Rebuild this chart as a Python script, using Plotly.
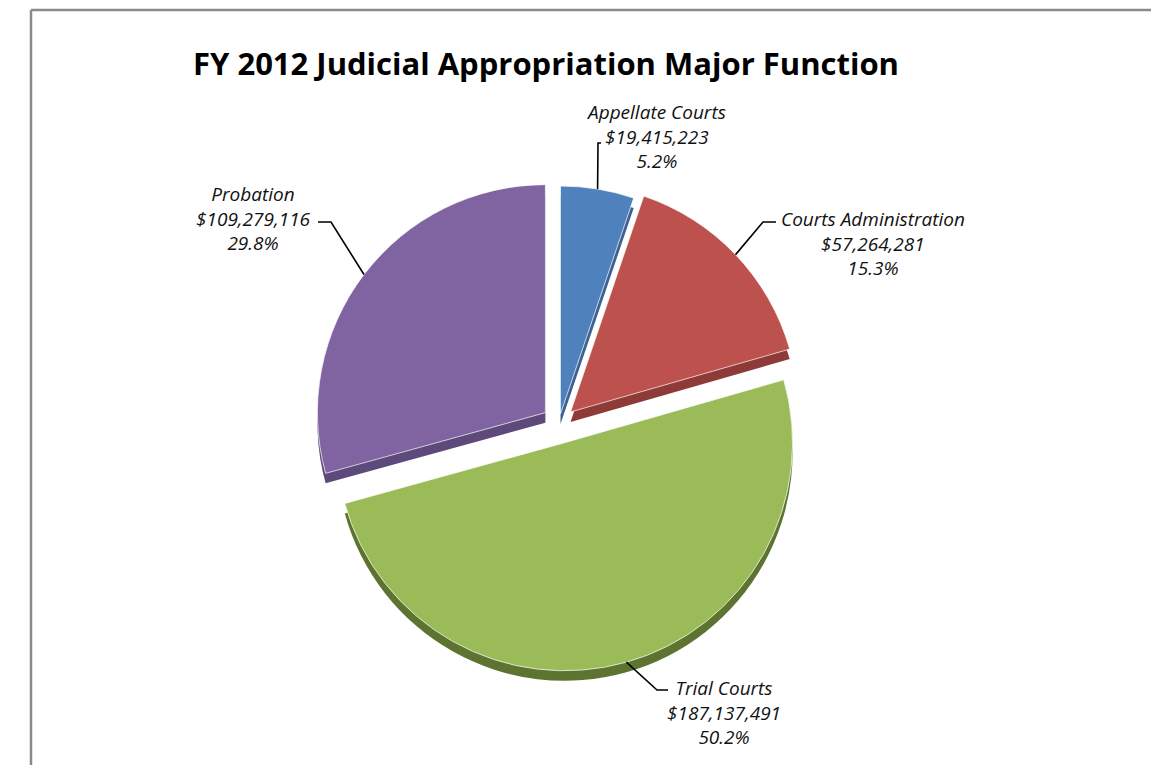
import math
import plotly.graph_objects as go

# ---- data ----
categories = ["Appellate Courts", "Courts Administration", "Trial Courts", "Probation"]
values = [19415223, 57264281, 187137491, 109279116]
value_labels = ["$19,415,223", "$57,264,281", "$187,137,491", "$109,279,116"]
percent_labels = ["5.2%", "15.3%", "50.2%", "29.8%"]
title_text = "FY 2012 Judicial Appropriation Major Function"

# ---- styling ----
colors = ["#4F81BD", "#BD514E", "#9BBB59", "#8064A2"]
side_colors = ["#3B6293", "#8E3A38", "#5C7430", "#5E4A7A"]
pulls = [0.04, 0.07, 0.09, 0.075]

W, H = 1151, 765
cx, cy, R = 559, 423, 228      # pie centre / radius in pixels
depth = 10                     # pseudo-3D thickness in pixels
half = R * (1 + max(pulls))


def dom(ccx, ccy):
    return dict(x=[(ccx - half) / W, (ccx + half) / W],
                y=[1 - (ccy + half) / H, 1 - (ccy - half) / H])


fig = go.Figure()
# darker "side" pie drawn first, shifted down
fig.add_trace(go.Pie(labels=categories, values=values, sort=False, direction="clockwise",
                     rotation=0, pull=pulls, textinfo="none", hoverinfo="skip",
                     marker=dict(colors=side_colors, line=dict(color="rgba(0,0,0,0)", width=0)),
                     domain=dom(cx, cy + depth), showlegend=False))
fig.add_trace(go.Pie(labels=categories, values=values, sort=False, direction="clockwise",
                     rotation=0, pull=pulls, textinfo="none",
                     marker=dict(colors=colors, line=dict(color="rgba(255,255,255,0.7)", width=1)),
                     domain=dom(cx, cy), showlegend=False))

# ---- labels with elbow leader lines ----
total = sum(values)
cum = 0
mids = []
for v in values:
    mids.append((cum + v / 2) / total * 2 * math.pi)
    cum += v

# label text centre (px) and the elbow / end points of the leader lines (px)
label_pos = [(656, 136), (873, 243), (724, 712), (253, 218)]
elbows = [(598, 143), (763, 222), (657, 690), (331, 222)]
ends = [(601, 143), (776, 222), (668, 690), (318, 222)]

def px(x, y):
    return x / W, 1 - y / H

shapes = []
annotations = []
for i, th in enumerate(mids):
    pcx = cx + pulls[i] * R * math.sin(th)
    pcy = cy - pulls[i] * R * math.cos(th)
    ax = pcx + R * math.sin(th)
    ay = pcy - R * math.cos(th)
    pts = [px(ax, ay), px(*elbows[i]), px(*ends[i])]
    path = "M {} {} L {} {} L {} {}".format(pts[0][0], pts[0][1], pts[1][0], pts[1][1],
                                            pts[2][0], pts[2][1])
    shapes.append(dict(type="path", xref="paper", yref="paper", path=path,
                       line=dict(color="black", width=1.6)))
    lx, ly = px(*label_pos[i])
    annotations.append(dict(
        x=lx, y=ly, xref="paper", yref="paper", showarrow=False,
        xanchor="center", yanchor="middle", align="center",
        text="<i>{}<br>{}<br>{}</i>".format(categories[i], value_labels[i], percent_labels[i]),
        font=dict(family="Open Sans", size=19, color="#111111")))

annotations.append(dict(x=546 / W, y=1 - 63 / H, xref="paper", yref="paper", showarrow=False,
                        xanchor="center", yanchor="middle",
                        text="<b>" + title_text + "</b>",
                        font=dict(family="Open Sans", size=31, color="#000000")))

# chart-area border: left and top edges (the reference is cropped on the right / bottom)
bx, by = px(31, 10)
shapes.append(dict(type="line", xref="paper", yref="paper", x0=bx, x1=bx, y0=0, y1=by,
                   line=dict(color="#8a8a8a", width=2.5)))
shapes.append(dict(type="line", xref="paper", yref="paper", x0=bx, x1=1, y0=by, y1=by,
                   line=dict(color="#8a8a8a", width=2.5)))

fig.update_layout(width=W, height=H, margin=dict(l=0, r=0, t=0, b=0),
                  paper_bgcolor="white", plot_bgcolor="white",
                  shapes=shapes, annotations=annotations, showlegend=False)

fig.write_html("out.html", config={"displayModeBar": False},
               post_script="document.body.style.margin='0';document.body.style.overflow='hidden';")
